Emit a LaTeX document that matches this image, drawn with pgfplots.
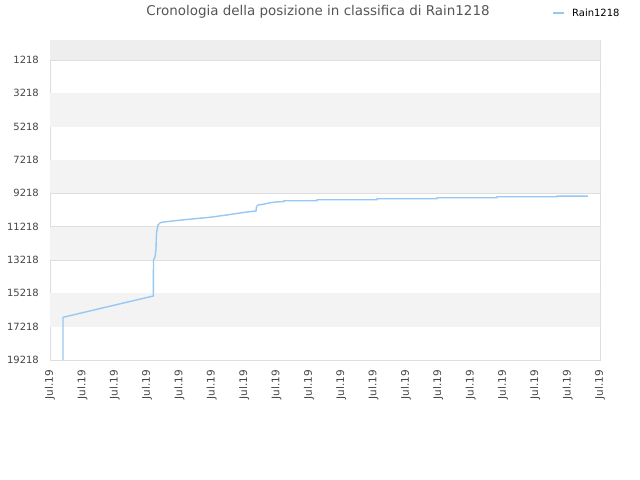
\documentclass[border=0pt]{standalone}
\usepackage{fontspec}
\setmainfont{DejaVu Sans}
\usepackage{pgfplots}
\pgfplotsset{compat=1.18}
\definecolor{linecol}{RGB}{150,200,245}
\definecolor{bandgray}{RGB}{243,243,243}
\definecolor{topgray}{RGB}{238,238,238}
\definecolor{gridgray}{RGB}{222,222,222}
\definecolor{ticktext}{RGB}{68,68,68}

\pgfplotstableread{
x y
0.402 19218
0.402 16656
3.193 15378
3.199 13218
3.245 13038
3.276 12558
3.292 11598
3.338 11118
3.400 10998
3.452 10956
3.864 10860
4.380 10758
4.945 10656
5.462 10518
5.873 10398
6.089 10338
6.367 10278
6.383 10008
6.429 9918
6.553 9888
6.769 9798
6.985 9738
7.233 9708
7.233 9666
8.253 9666
8.253 9606
10.107 9606
10.107 9546
11.962 9546
11.962 9486
13.816 9486
13.816 9426
15.671 9426
15.671 9390
16.629 9390
}\rankdata

\begin{document}
\begin{tikzpicture}[x=1bp,y=1bp]
\begin{axis}[
  set layers,
  at={(50bp,120bp)}, anchor=south west,
  scale only axis, width=550bp, height=320bp,
  xmin=0, xmax=17, ymin=18, ymax=19218,
  y dir=reverse,
  axis line style={draw=gridgray},
  xtick={0,1,...,17},
  xticklabels={Jul.19,Jul.19,Jul.19,Jul.19,Jul.19,Jul.19,Jul.19,Jul.19,Jul.19,Jul.19,Jul.19,Jul.19,Jul.19,Jul.19,Jul.19,Jul.19,Jul.19,Jul.19},
  xticklabel style={rotate=90, anchor=east, inner sep=0pt, xshift=-10bp, font=\fontsize{10.5}{12}\selectfont, text=ticktext},
  ytick={1218,3218,...,19218},
  scaled y ticks=false,
  yticklabel style={anchor=east, inner sep=0pt, xshift=-11bp, font=\fontsize{10}{12}\selectfont, text=ticktext,
    /pgf/number format/fixed, /pgf/number format/precision=0},
  /pgf/number format/assume math mode=true,
  /pgf/number format/1000 sep={},
  major tick length=0pt,
  ymajorgrids, grid style={gridgray, line width=0.8bp},
  clip=true,
]
  \fill[topgray, on layer=axis background] (axis cs:-1,18) rectangle (axis cs:18,1218);
  \fill[bandgray, on layer=axis background] (axis cs:-1,3218) rectangle (axis cs:18,5218);
  \fill[bandgray, on layer=axis background] (axis cs:-1,7218) rectangle (axis cs:18,9218);
  \fill[bandgray, on layer=axis background] (axis cs:-1,11218) rectangle (axis cs:18,13218);
  \fill[bandgray, on layer=axis background] (axis cs:-1,15218) rectangle (axis cs:18,17218);
  \addplot[linecol, line width=1.4bp, no marks] table[x=x,y=y] {\rankdata};
\end{axis}
\path (0,0) rectangle (640,480);
\node[font=\fontsize{13.5}{15}\selectfont, text={rgb,255:red,85;green,85;blue,85}] at (318,468) {Cronologia della posizione in classifica di Rain1218};
\draw[linecol, line width=1.4bp] (553,467) -- (564,467);
\node[anchor=west, font=\fontsize{10}{12}\selectfont, inner sep=0pt] at (572,467) {Rain1218};
\end{tikzpicture}
\end{document}
